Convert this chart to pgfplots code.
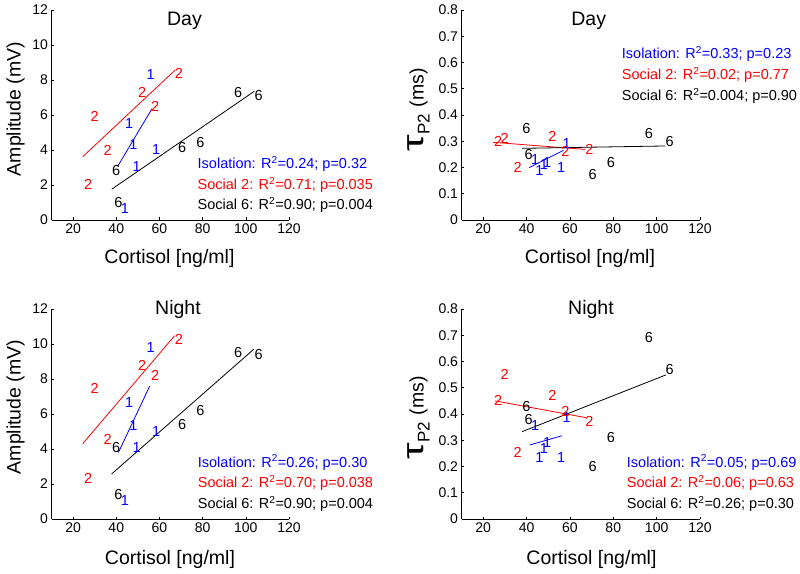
\documentclass[border=0pt]{standalone}
\usepackage{fontspec}
\setmainfont{Liberation Sans}
\usepackage{pgfplots}
\pgfplotsset{compat=1.18}

\newcommand\tickfont{\fontsize{14}{14}\selectfont}
\newcommand\labfont{\fontsize{19.5}{20}\selectfont}
\newcommand\legfont{\fontsize{14.5}{15}\selectfont}
\newcommand\taulabel{{\fontsize{30}{30}\selectfont\scalebox{1.4}[1]{τ}}\hspace{1pt}{\fontsize{17}{17}\selectfont\raisebox{-6pt}{P2}}\hspace{1pt} (ms)}

\pgfplotsset{
  panel/.style={
    scale only axis, anchor=south west,
    width=237.5pt, height=210pt,
    xmin=10, xmax=120, xtick={20,40,60,80,100,120},
    axis x line*=bottom, axis y line*=left,
    axis line style={-, line width=0.6pt},
    tick align=inside, major tick length=2.5pt,
    tick style={black, line width=0.6pt},
    /pgf/number format/assume math mode=true,
    xticklabel={\tickfont\pgfmathprintnumber{\tick}},
    yticklabel={\tickfont\pgfmathprintnumber{\tick}},
    clip=false,
  },
  amp/.style={ymin=0, ymax=12, ytick={0,2,4,6,8,10,12}},
  tau/.style={ymin=0, ymax=0.8, ytick={0,0.1,0.2,0.3,0.4,0.5,0.6,0.7,0.8}},
  pts/.style 2 args={only marks, color=#1, mark=text, text mark={#2},
    text mark as node=true,
    text mark style={anchor=west, inner sep=0pt, font=\legfont, text=#1}},
  fit/.style={color=#1, no marks, line width=0.8pt},
}

\begin{document}
\begin{tikzpicture}
\useasboundingbox (0pt,0pt) rectangle (800pt,573pt);

% Day, amplitude
\begin{axis}[panel, amp, at={(51.5pt,353pt)}]
  \addplot[fit=blue] coordinates {(40.8,3.1) (56.5,6.35)};
  \addplot[fit=red] coordinates {(24.5,3.62) (67.3,8.57)};
  \addplot[fit=black] coordinates {(37.9,1.76) (104,7.36)};
  \addplot[pts={blue}{1}] coordinates {(42,0.67) (44,5.52) (46,4.34) (47.5,3.05) (54,8.34) (56.5,4.0)};
  \addplot[pts={red}{2}] coordinates {(25,2.06) (28,5.94) (34,4.0) (50,7.27) (56,6.47) (67,8.38)};
  \addplot[pts={black}{6}] coordinates {(38,2.82) (39,0.99) (68.5,4.13) (77,4.42) (94.5,7.27) (104,7.09)};
\end{axis}

% Day, tau
\begin{axis}[panel, tau, at={(461.5pt,353pt)}, width=238.5pt]
  \addplot[fit=blue] coordinates {(41.3,0.20) (57,0.265)};
  \addplot[fit=red] coordinates {(24.5,0.296) (67,0.269)};
  \addplot[fit=black] coordinates {(37.8,0.273) (104,0.282)};
  \addplot[pts={blue}{1}] coordinates {(42,0.23) (44,0.19) (46,0.21) (47.5,0.22) (54,0.20) (56.5,0.29)};
  \addplot[pts={red}{2}] coordinates {(25,0.30) (28,0.31) (34,0.20) (50,0.32) (56,0.26) (67,0.27)};
  \addplot[pts={black}{6}] coordinates {(38,0.35) (39,0.25) (68.5,0.175) (77,0.22) (94.5,0.33) (104,0.30)};
\end{axis}

% Night, amplitude
\begin{axis}[panel, amp, at={(51.5pt,54pt)}]
  \addplot[fit=blue] coordinates {(41,3.8) (55.5,7.6)};
  \addplot[fit=red] coordinates {(24.5,4.31) (67,10.47)};
  \addplot[fit=black] coordinates {(37.8,2.57) (103.7,9.7)};
  \addplot[pts={blue}{1}] coordinates {(42,1.05) (44,6.64) (46,5.35) (47.5,4.06) (54,9.80) (56.5,5.01)};
  \addplot[pts={red}{2}] coordinates {(25,2.33) (28,7.44) (34,4.57) (50,8.78) (56,8.21) (67,10.24)};
  \addplot[pts={black}{6}] coordinates {(38,4.06) (39,1.38) (68.5,5.42) (77,6.18) (94.5,9.51) (104,9.41)};
\end{axis}

% Night, tau
\begin{axis}[panel, tau, at={(461.5pt,54pt)}, width=238.5pt]
  \addplot[fit=blue] coordinates {(41.5,0.282) (56.3,0.317)};
  \addplot[fit=red] coordinates {(25.5,0.45) (67.5,0.386)};
  \addplot[fit=black] coordinates {(38,0.333) (104.3,0.549)};
  \addplot[pts={blue}{1}] coordinates {(42,0.355) (44,0.235) (46,0.27) (47.5,0.29) (54,0.235) (56.5,0.385)};
  \addplot[pts={red}{2}] coordinates {(25,0.45) (28,0.55) (34,0.255) (50,0.47) (56,0.41) (67,0.37)};
  \addplot[pts={black}{6}] coordinates {(38,0.43) (39,0.38) (68.5,0.20) (77,0.31) (94.5,0.69) (104,0.57)};
\end{axis}

% titles and axis labels
\begin{scope}[every node/.style={font=\labfont, anchor=base, inner sep=0pt}]
  \node at (184.5pt,547.5pt) {Day};
  \node at (588.7pt,547.5pt) {Day};
  \node at (178pt,258.5pt) {Night};
  \node at (591pt,258.5pt) {Night};
  \node at (169.5pt,309.7pt) {Cortisol [ng/ml]};
  \node at (590pt,309.7pt) {Cortisol [ng/ml]};
  \node at (170pt,8.5pt) {Cortisol [ng/ml]};
  \node at (591.5pt,8.5pt) {Cortisol [ng/ml]};
  \node[rotate=90] at (20.7pt,464pt) {Amplitude (mV)};
  \node[rotate=90] at (20.7pt,166pt) {Amplitude (mV)};
  \node[rotate=90, anchor=base east] at (423.5pt,505pt) {\taulabel};
  \node[rotate=90, anchor=base east] at (423.5pt,197pt) {\taulabel};
\end{scope}

% fit statistics
\begin{scope}[every node/.style={font=\legfont, anchor=base west, inner sep=0pt}]
  \node[text=blue] at (197.5pt,404pt) {Isolation: R\textsuperscript{2}=0.24; p=0.32};
  \node[text=red] at (197.5pt,383.5pt) {Social 2: R\textsuperscript{2}=0.71; p=0.035};
  \node at (197.5pt,363pt) {Social 6: R\textsuperscript{2}=0.90; p=0.004};
  \node[text=blue] at (621.7pt,514pt) {Isolation: R\textsuperscript{2}=0.33; p=0.23};
  \node[text=red] at (621.7pt,493.3pt) {Social 2: R\textsuperscript{2}=0.02; p=0.77};
  \node at (621.7pt,472.6pt) {Social 6: R\textsuperscript{2}=0.004; p=0.90};
  \node[text=blue] at (197.7pt,106pt) {Isolation: R\textsuperscript{2}=0.26; p=0.30};
  \node[text=red] at (197.7pt,85.3pt) {Social 2: R\textsuperscript{2}=0.70; p=0.038};
  \node at (197.7pt,64.6pt) {Social 6: R\textsuperscript{2}=0.90; p=0.004};
  \node[text=blue] at (626.7pt,106pt) {Isolation: R\textsuperscript{2}=0.05; p=0.69};
  \node[text=red] at (626.7pt,85.3pt) {Social 2: R\textsuperscript{2}=0.06; p=0.63};
  \node at (626.7pt,64.6pt) {Social 6: R\textsuperscript{2}=0.26; p=0.30};
\end{scope}
\end{tikzpicture}
\end{document}
